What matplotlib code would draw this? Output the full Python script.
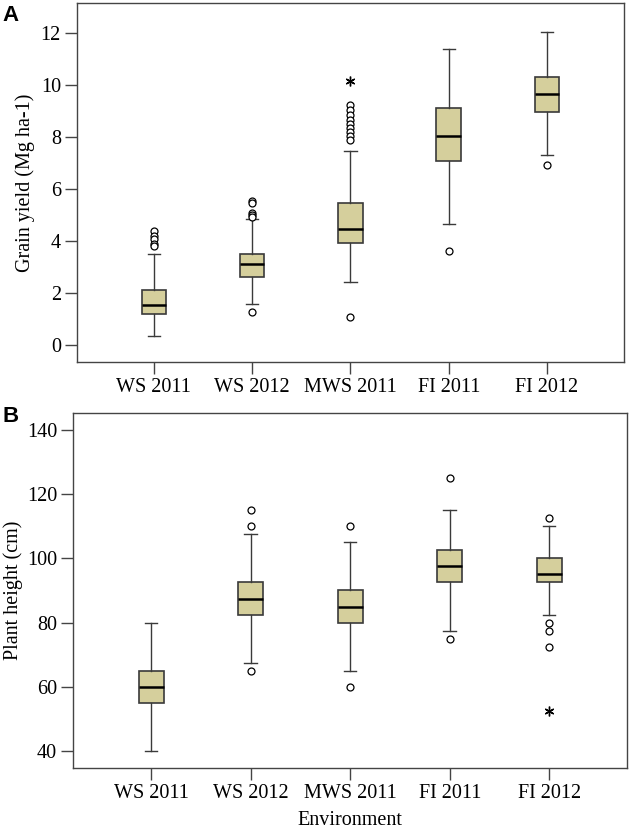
import matplotlib
matplotlib.use("Agg")
import matplotlib.pyplot as plt

# Environments on the x axis
envs = ["WS 2011", "WS 2012", "MWS 2011", "FI 2011", "FI 2012"]

# Panel A - grain yield (Mg ha-1)
gy_low = [0.36, 1.57, 2.41, 4.67, 7.33]
gy_q1 = [1.19, 2.63, 3.92, 7.07, 8.98]
gy_med = [1.54, 3.12, 4.48, 8.05, 9.65]
gy_q3 = [2.12, 3.51, 5.45, 9.12, 10.32]
gy_high = [3.51, 4.85, 7.47, 11.38, 12.03]
gy_out = [
    [4.4, 4.2, 4.1, 3.9, 3.8],
    [5.55, 5.45, 5.1, 5.0, 4.92, 1.29],
    [9.23, 9.05, 8.85, 8.65, 8.5, 8.35, 8.2, 8.05, 7.9, 1.08],
    [3.61],
    [6.93],
]
gy_extreme = [[], [], [10.15], [], []]

# Panel B - plant height (cm)
ph_low = [40, 67.5, 65, 77.5, 82.5]
ph_q1 = [55, 82.5, 80, 92.5, 92.5]
ph_med = [60, 87.5, 85, 97.5, 95]
ph_q3 = [65, 92.5, 90, 102.5, 100]
ph_high = [80, 107.5, 105, 115, 110]
ph_out = [
    [],
    [115, 110, 65],
    [110, 60],
    [125, 75],
    [112.5, 80, 77.5, 72.5],
]
ph_extreme = [[], [], [], [], [52.5]]

box_color = "#d5cf9c"
edge_color = "#3a3a3a"
fs = 14.5

plt.rcParams["font.family"] = "Liberation Serif"
plt.rcParams["font.size"] = fs


def draw_panel(ax, low, q1, med, q3, high, out, extreme):
    stats = []
    for i in range(len(envs)):
        stats.append({
            "whislo": low[i], "q1": q1[i], "med": med[i], "q3": q3[i],
            "whishi": high[i], "fliers": out[i], "label": envs[i],
        })
    ax.bxp(stats, positions=range(1, len(envs) + 1), widths=0.25,
           patch_artist=True,
           boxprops=dict(facecolor=box_color, edgecolor=edge_color, linewidth=1.2),
           medianprops=dict(color="black", linewidth=1.8),
           whiskerprops=dict(color=edge_color, linewidth=1),
           capprops=dict(color=edge_color, linewidth=1),
           flierprops=dict(marker="o", markersize=5, markerfacecolor="white",
                           markeredgecolor="black", markeredgewidth=0.9,
                           linestyle="none"))
    # extreme values drawn as asterisks
    for i, vals in enumerate(extreme):
        if vals:
            ax.plot([i + 1] * len(vals), vals, linestyle="none",
                    marker=(6, 2, 0), markersize=7, markeredgewidth=1,
                    color="black")
    ax.set_xlim(0.216, 5.78)
    for s in ax.spines.values():
        s.set_color("#444444")
        s.set_linewidth(1)
    ax.tick_params(axis="both", direction="out", length=8.5, width=1,
                   color="#444444", pad=3, labelsize=fs)


fig = plt.figure(figsize=(6.3, 8.34), dpi=100)

axA = fig.add_axes([0.122, 0.566, 0.868, 0.430])
draw_panel(axA, gy_low, gy_q1, gy_med, gy_q3, gy_high, gy_out, gy_extreme)
axA.set_ylim(-0.65, 13.15)
axA.set_yticks([0, 2, 4, 6, 8, 10, 12])
axA.set_ylabel("Grain yield (Mg ha-1)", fontsize=fs, labelpad=4)

axB = fig.add_axes([0.116, 0.079, 0.879, 0.426])
draw_panel(axB, ph_low, ph_q1, ph_med, ph_q3, ph_high, ph_out, ph_extreme)
axB.set_ylim(34.7, 145.3)
axB.set_yticks([40, 60, 80, 100, 120, 140])
axB.set_ylabel("Plant height (cm)", fontsize=fs, labelpad=3)
axB.set_xlabel("Environment", fontsize=fs, labelpad=6)

fig.text(0.004, 0.982, "A", family="Liberation Sans", fontweight="bold",
         fontsize=16, va="center", ha="left")
fig.text(0.004, 0.500, "B", family="Liberation Sans", fontweight="bold",
         fontsize=16, va="center", ha="left")

fig.savefig("out.png", dpi=100)
